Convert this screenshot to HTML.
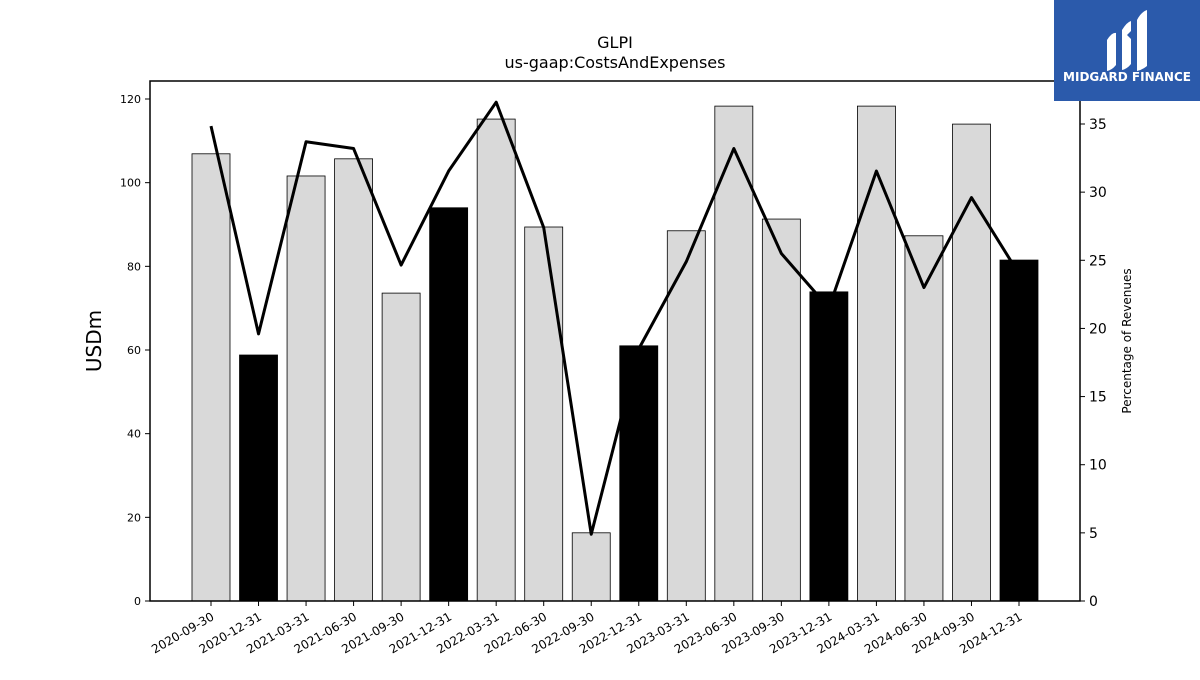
<!DOCTYPE html>
<html><head><meta charset="utf-8"><style>
body{margin:0;background:#fff;font-family:"Liberation Sans","DejaVu Sans",sans-serif}
svg text{font-family:"DejaVu Sans","Liberation Sans",sans-serif}
</style></head><body>
<svg id="c" width="1200" height="675" xmlns="http://www.w3.org/2000/svg">
<rect width="1200" height="675" fill="#fff"/>
<text x="615" y="48" text-anchor="middle" font-size="16">GLPI</text>
<text x="615" y="68" text-anchor="middle" font-size="16">us-gaap:CostsAndExpenses</text>
<g id="bars"></g><g id="line"></g><g id="bars2"></g><g id="axes"></g>
<rect x="150" y="81" width="930" height="520" fill="none" stroke="#000" stroke-width="1.5"/>
<text transform="translate(101,341) rotate(-90)" text-anchor="middle" font-size="20">USDm</text>
<text transform="translate(1131,341) rotate(-90)" text-anchor="middle" font-size="12">Percentage of Revenues</text>
<g>
<rect x="1054" y="0" width="146" height="101" fill="#2b5aab"/>
<path d="M1107 40 q5 -8 9 -7 v32 q-4 5 -9 6z M1122 30 q5 -8 9 -9 v10 l-4 4 l4 4 v25 q-4 5 -9 6z M1137 20 q4 -8 10 -10 v56 q-5 4 -10 5z" fill="#fff"/>
<text x="1127" y="81" text-anchor="middle" font-size="12" font-weight="bold" fill="#fff">MIDGARD FINANCE</text>
</g>
</svg>
<script>
const categories=["2020-09-30","2020-12-31","2021-03-31","2021-06-30","2021-09-30","2021-12-31","2022-03-31","2022-06-30","2022-09-30","2022-12-31","2023-03-31","2023-06-30","2023-09-30","2023-12-31","2024-03-31","2024-06-30","2024-09-30","2024-12-31"];
const costs=[106.9,58.8,101.6,105.7,73.6,94.0,115.2,89.4,16.3,61.0,88.5,118.3,91.3,73.9,118.3,87.3,114.0,81.5];
const pctRevenue=[34.85,19.6,33.7,33.2,24.65,31.55,36.6,27.4,4.9,18.5,24.9,33.2,25.5,21.5,31.55,23.0,29.6,24.0];
const leftTicks=[0,20,40,60,80,100,120];
const rightTicks=[0,5,10,15,20,25,30,35];
const NS="http://www.w3.org/2000/svg";
const X0=150,X1=1080,Y0=601;
const xc=i=>211+i*(1019-211)/(categories.length-1);
const yL=v=>Y0-v*(601-99)/120;
const yR=v=>Y0-v*(601-124)/35;
function mk(t,a,p){const e=document.createElementNS(NS,t);for(const k in a)e.setAttribute(k,a[k]);p.appendChild(e);return e;}
const bars=document.getElementById('bars'),bars2=document.getElementById('bars2'),line=document.getElementById('line'),axes=document.getElementById('axes');
const bw=38;
categories.forEach((c,i)=>{
 const black=c.endsWith('12-31');
 const r=mk('rect',{x:xc(i)-bw/2,y:yL(costs[i]),width:bw,height:Y0-yL(costs[i]),fill:black?'#000':'#d9d9d9',stroke:'#000','stroke-width':0.8},black?bars2:bars);
 
 
 mk('line',{x1:xc(i),x2:xc(i),y1:Y0,y2:Y0+5,stroke:'#000'},axes);
 const t=mk('text',{transform:`translate(${xc(i)+4},${Y0+18}) rotate(-30)`,'text-anchor':'end','font-size':12},axes);
 t.textContent=c;
 
 
});
const pl=mk('polyline',{points:pctRevenue.map((v,i)=>xc(i)+','+yR(v)).join(' '),fill:'none',stroke:'#000','stroke-width':3,'stroke-linejoin':'round'},line);


leftTicks.forEach(v=>{
 mk('line',{x1:X0-5,x2:X0,y1:yL(v),y2:yL(v),stroke:'#000'},axes);
 const t=mk('text',{x:X0-9,y:yL(v)+4,'text-anchor':'end','font-size':11},axes);
 t.textContent=v;
 
 
});
rightTicks.forEach(v=>{
 mk('line',{x1:X1,x2:X1+5,y1:yR(v),y2:yR(v),stroke:'#000'},axes);
 const t=mk('text',{x:X1+9,y:yR(v)+5,'text-anchor':'start','font-size':14},axes);
 t.textContent=v;
 
 
});
</script>
</body></html>
